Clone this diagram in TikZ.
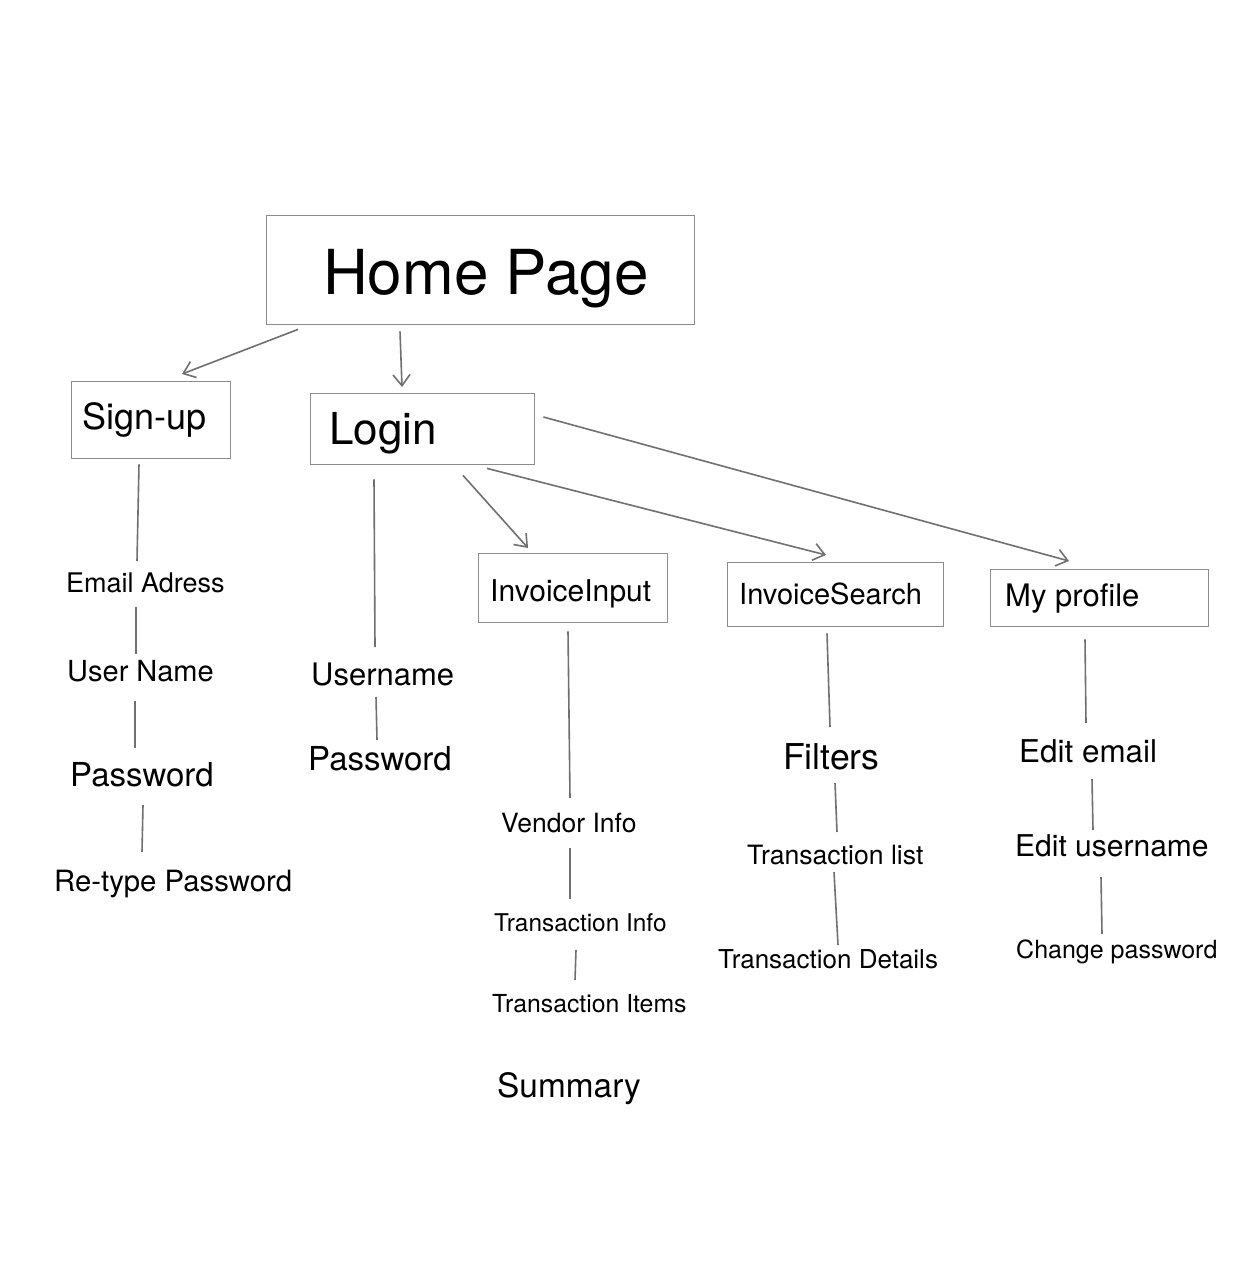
\documentclass[tikz,border=0pt]{standalone}
\usepackage{fontspec}
\setmainfont{TeX Gyre Heros}
\usetikzlibrary{calc,arrows.meta}
\tikzset{
  box/.style={draw=boxgray, line width=1.4pt, inner sep=0, anchor=north west},
  txt/.style={inner sep=0, anchor=base west, text=black, font=\fontsize{#1}{#1}\selectfont},
  link/.style={draw=linkgray, line width=1.6pt},
  arrow/.style={link, -{Straight Barb[length=11pt, width=17pt, line width=1.6pt]}}
}
\definecolor{boxgray}{HTML}{8C8C8C}
\definecolor{linkgray}{HTML}{707070}
\begin{document}
\begin{tikzpicture}[x=1pt, y=-1pt]
\useasboundingbox[fill=white] (0,0) rectangle (1253,1268);

% framed pages
\node[box, minimum width=428pt, minimum height=109pt] (home) at (266,215) {};
\node[txt=62] (homet) at (323,294) {Home Page};
\node[box, minimum width=159pt, minimum height=77pt] (signup) at (71,381) {};
\node[txt=36] (signupt) at (82,429) {Sign-up};
\node[box, minimum width=224pt, minimum height=71pt] (login) at (310,393) {};
\node[txt=44] (logint) at (329,444) {Login};
\node[box, minimum width=189pt, minimum height=69pt] (invin) at (478,553) {};
\node[txt=30] (invint) at (490,601) {InvoiceInput};
\node[box, minimum width=216pt, minimum height=64pt] (invse) at (727,562) {};
\node[txt=29] (invset) at (739,604) {InvoiceSearch};
\node[box, minimum width=218pt, minimum height=57pt] (profile) at (990,569) {};
\node[txt=31] (profilet) at (1005,606) {My profile};

% sub items
\node[txt=27] (email) at (66,592) {Email Adress};
\node[txt=29] (uname) at (67,681) {User Name};
\node[txt=33] (pwd1) at (70,786) {Password};
\node[txt=29.3] (retype) at (54,891) {Re-type Password};
\node[txt=31] (username) at (311,685) {Username};
\node[txt=33] (pwd2) at (308,770) {Password};
\node[txt=26.5] (vendor) at (501,832) {Vendor Info};
\node[txt=24.4] (tinfo) at (494,931) {Transaction Info};
\node[txt=24.8] (titems) at (492,1012) {Transaction Items};
\node[txt=33.4] (summary) at (497,1097) {Summary};
\node[txt=35.6] (filters) at (783,769) {Filters};
\node[txt=26.6] (tlist) at (747,864) {Transaction list};
\node[txt=26] (tdetails) at (718,968) {Transaction Details};
\node[txt=31.4] (editemail) at (1019,762) {Edit email};
\node[txt=30] (edituser) at (1015,856) {Edit username};
\node[txt=25] (changepw) at (1016,958) {Change password};

% navigation arrows
\draw[arrow] ($(home.south west)+(32,4)$) -- ($(signup.north west)+(111,-7)$);
\draw[arrow] ($(home.south west)+(134,6)$) -- ($(login.north west)+(92,-6)$);
\draw[arrow] ($(login.south west)+(153,10)$) -- ($(invin.north west)+(50,-5)$);
\draw[arrow] ($(login.south west)+(177,3)$) -- ($(invse.north west)+(99,-7)$);
\draw[arrow] ($(login.north east)+(8,24)$) -- ($(profile.north west)+(79,-8)$);

% item chains
\draw[link] ($(signup.south west)+(68,5)$) -- ($(email.base west)+(71,-31)$);
\draw[link] ($(email.base west)+(70,15)$) -- ($(uname.base west)+(69,-27)$);
\draw[link] ($(uname.base west)+(68,20)$) -- ($(pwd1.base west)+(65,-38)$);
\draw[link] ($(pwd1.base west)+(73,19)$) -- ($(retype.base west)+(88,-39)$);
\draw[link] ($(login.south west)+(64,14)$) -- ($(username.base west)+(64,-38)$);
\draw[link] ($(username.base west)+(65,12)$) -- ($(pwd2.base west)+(69,-30)$);
\draw[link] ($(invin.south west)+(90,8)$) -- ($(vendor.base west)+(69,-34)$);
\draw[link] ($(vendor.base west)+(69,16)$) -- ($(tinfo.base west)+(76,-32)$);
\draw[link] ($(tinfo.base west)+(82,19)$) -- ($(titems.base west)+(83,-32)$);
\draw[link] ($(invse.south west)+(100,6)$) -- ($(filters.base west)+(47,-42)$);
\draw[link] ($(filters.base west)+(52,14)$) -- ($(tlist.base west)+(90,-32)$);
\draw[link] ($(tlist.base west)+(87,8)$) -- ($(tdetails.base west)+(120,-23)$);
\draw[link] ($(profile.south west)+(95,12)$) -- ($(editemail.base west)+(67,-39)$);
\draw[link] ($(editemail.base west)+(73,17)$) -- ($(edituser.base west)+(78,-26)$);
\draw[link] ($(edituser.base west)+(86,21)$) -- ($(changepw.base west)+(86,-24)$);
\end{tikzpicture}
\end{document}
